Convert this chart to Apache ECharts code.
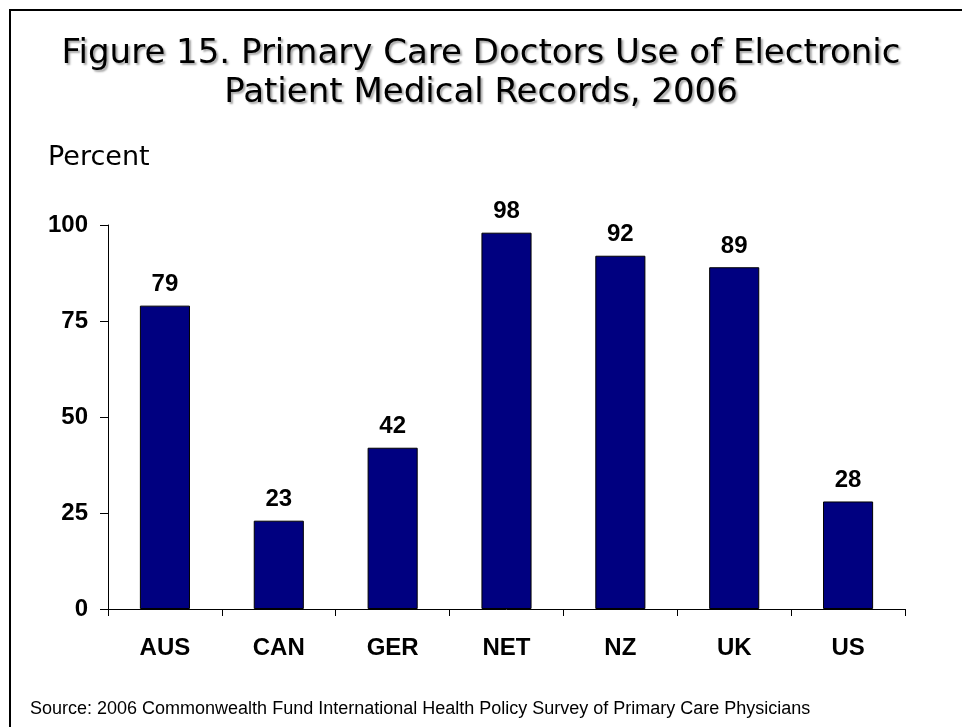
<!DOCTYPE html>
<html><head><meta charset="utf-8">
<script src="https://cdn.jsdelivr.net/npm/echarts@6/dist/echarts.min.js"></script>
<style>html,body{margin:0;padding:0;background:#fff}#c{width:962px;height:727px}</style>
</head><body><div id="c"></div>
<script>
const categories = ['AUS','CAN','GER','NET','NZ','UK','US'];
const values = [79, 23, 42, 98, 92, 89, 28];
const yTicks = [0, 25, 50, 75, 100];
const titleText = 'Figure 15. Primary Care Doctors Use of Electronic\nPatient Medical Records, 2006';
const yName = 'Percent';
const sourceText = 'Source: 2006 Commonwealth Fund International Health Policy Survey of Primary Care Physicians';

const chart = echarts.init(document.getElementById('c'), null, {renderer:'canvas'});
chart.setOption({
  backgroundColor:'#fff',
  animation:false,
  title:{
    text: titleText,
    left:'center', top:30,
    textStyle:{fontFamily:'DejaVu Sans', fontSize:34, fontWeight:'normal', color:'#000', lineHeight:39,
      textShadowColor:'rgba(0,0,0,0.35)', textShadowOffsetX:2, textShadowOffsetY:2, textShadowBlur:2}
  },
  graphic:[
    {type:'line', shape:{x1:9, y1:10, x2:962, y2:10}, style:{stroke:'#000', lineWidth:2}},
    {type:'line', shape:{x1:10, y1:9, x2:10, y2:727}, style:{stroke:'#000', lineWidth:2}},
    {type:'text', left:48, top:144, style:{text:yName, font:'27px "DejaVu Sans"', fill:'#000'}},
    {type:'text', left:30, top:700, style:{text:sourceText, font:'18px "Liberation Sans"', fill:'#000'}}
  ],
  grid:{left:108, right:57, top:225, bottom:118},
  xAxis:{
    type:'category', data:categories,
    axisLine:{lineStyle:{color:'#000', width:1}},
    axisTick:{show:true, length:7, inside:false, lineStyle:{color:'#000'}},
    axisLabel:{fontFamily:'Liberation Sans', fontWeight:'bold', fontSize:24, color:'#000', margin:27}
  },
  yAxis:{
    type:'value', min:0, max:100, interval:25,
    axisLine:{show:true, lineStyle:{color:'#000', width:1}},
    axisTick:{show:true, length:8, lineStyle:{color:'#000'}},
    splitLine:{show:false},
    axisLabel:{fontFamily:'Liberation Sans', fontWeight:'bold', fontSize:24, color:'#000', margin:20,
      formatter:v=> yTicks.includes(v) ? String(v) : ''}
  },
  series:[{
    type:'bar', data:values, barWidth:'44%',
    itemStyle:{color:'#000080', borderColor:'#000', borderWidth:1},
    label:{show:true, position:'top', distance:9, fontFamily:'Liberation Sans', fontWeight:'bold', fontSize:24, color:'#000'}
  }]
});
</script></body></html>
